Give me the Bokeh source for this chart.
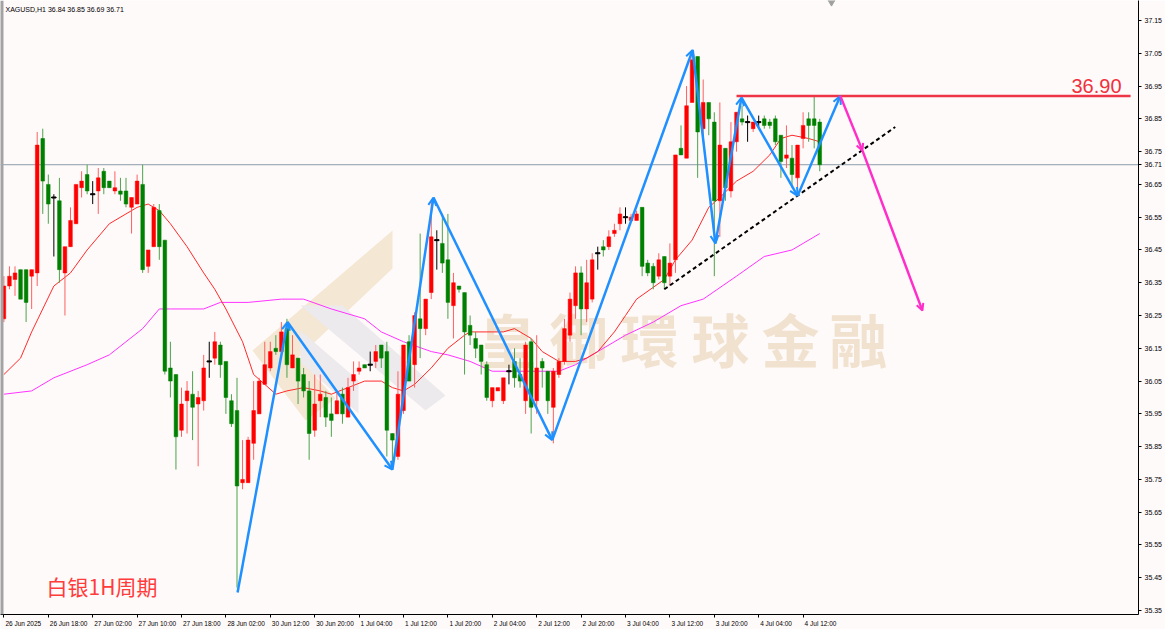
import numpy as np
from bokeh.plotting import figure
from bokeh.models import (ColumnDataSource, Range1d, FixedTicker, PrintfTickFormatter,
                          CustomJSTickFormatter, Span, Label, Arrow, OpenHead)
from bokeh.core.properties import value
from bokeh.embed import file_html
from bokeh.resources import INLINE

# ---------------- data ----------------
symbol_title = "XAGUSD,H1  36.84 36.85 36.69 36.71"
chart_label = "白银1H周期"
level_label = "36.90"
last_price = 36.71
watermark_chars = ["皇", "御", "環", "球", "金", "融"]

opens = [36.24, 36.34, 36.36, 36.39, 36.39, 36.37, 36.38, 36.79, 36.65, 36.61,
         36.60, 36.38, 36.46, 36.53, 36.64, 36.68, 36.62, 36.63, 36.69, 36.66,
         36.63, 36.63, 36.63, 36.58, 36.59, 36.65, 36.40, 36.46, 36.57, 36.48,
         36.09, 36.07, 35.90, 35.99, 36.01, 35.98, 35.99, 36.11, 36.12, 36.16,
         36.11, 35.99, 35.96, 35.74, 35.74, 35.86, 35.95, 36.04, 36.09, 36.15,
         36.14, 36.21, 36.09, 36.12, 36.07, 36.02, 35.90, 35.99, 36.00, 35.95,
         35.95, 36.01, 35.94, 36.05, 36.08, 36.10, 36.10, 36.11, 36.16, 36.14,
         35.89, 35.82, 35.96, 36.17, 36.10, 36.24, 36.21, 36.32, 36.48, 36.47,
         36.42, 36.28, 36.34, 36.32, 36.22, 36.18, 36.16, 36.10, 35.99, 36.02,
         35.99, 36.08, 36.11, 36.07, 35.99, 36.17, 35.99, 36.11, 36.08, 35.97,
         36.07, 36.11, 36.19, 36.28, 36.38, 36.27, 36.30, 36.44, 36.46, 36.46,
         36.50, 36.53, 36.55, 36.54, 36.54, 36.58, 36.41, 36.40, 36.37, 36.43,
         36.37, 36.42, 36.76, 36.73, 36.90, 37.04, 36.82, 36.90, 36.84, 36.60,
         36.76, 36.63, 36.78, 36.85, 36.84, 36.82, 36.84, 36.85, 36.84, 36.85,
         36.80, 36.73, 36.73, 36.67, 36.79, 36.85, 36.85, 36.84]
highs = [36.37, 36.40, 36.40, 36.39, 36.39, 36.39, 36.81, 36.82, 36.68, 36.62,
         36.67, 36.46, 36.58, 36.65, 36.69, 36.71, 36.66, 36.70, 36.70, 36.66,
         36.69, 36.67, 36.67, 36.61, 36.68, 36.71, 36.45, 36.59, 36.59, 36.48,
         36.17, 36.07, 36.03, 36.05, 36.08, 36.02, 36.13, 36.17, 36.20, 36.17,
         36.11, 36.01, 36.06, 35.87, 35.88, 36.05, 36.06, 36.17, 36.17, 36.19,
         36.23, 36.24, 36.19, 36.12, 36.09, 36.05, 36.07, 36.07, 36.02, 36.00,
         36.02, 36.03, 36.06, 36.11, 36.11, 36.10, 36.14, 36.16, 36.16, 36.17,
         35.89, 36.08, 36.16, 36.19, 36.26, 36.50, 36.30, 36.60, 36.51, 36.56,
         36.56, 36.38, 36.34, 36.32, 36.25, 36.20, 36.16, 36.11, 36.03, 36.03,
         36.06, 36.10, 36.15, 36.12, 36.17, 36.18, 36.19, 36.12, 36.08, 36.09,
         36.12, 36.24, 36.32, 36.40, 36.40, 36.42, 36.44, 36.46, 36.48, 36.51,
         36.53, 36.58, 36.58, 36.56, 36.57, 36.58, 36.42, 36.41, 36.44, 36.43,
         36.47, 36.74, 36.83, 36.95, 37.05, 37.04, 36.97, 36.90, 36.87, 36.90,
         36.76, 36.84, 36.87, 36.89, 36.86, 36.84, 36.86, 36.86, 36.85, 36.86,
         36.80, 36.83, 36.77, 36.77, 36.87, 36.87, 36.92, 36.85]
lows = [36.23, 36.33, 36.31, 36.30, 36.23, 36.27, 36.34, 36.56, 36.53, 36.43,
        36.35, 36.25, 36.46, 36.53, 36.61, 36.62, 36.59, 36.56, 36.62, 36.64,
        36.62, 36.60, 36.58, 36.50, 36.59, 36.38, 36.38, 36.46, 36.42, 36.07,
        36.00, 35.78, 35.88, 35.89, 35.87, 35.79, 35.96, 36.06, 36.10, 36.06,
        35.95, 35.91, 35.42, 35.72, 35.74, 35.81, 35.95, 36.04, 36.08, 36.13,
        36.13, 36.06, 36.09, 35.98, 36.00, 35.81, 35.88, 35.94, 35.91, 35.88,
        35.95, 35.92, 35.94, 36.02, 36.07, 36.09, 36.08, 36.09, 36.09, 35.82,
        35.79, 35.81, 35.95, 36.05, 36.03, 36.12, 36.19, 36.30, 36.39, 36.38,
        36.24, 36.18, 36.32, 36.07, 36.16, 36.12, 36.07, 35.99, 35.97, 36.02,
        35.98, 36.04, 36.03, 36.03, 35.95, 35.89, 35.95, 36.03, 35.95, 35.86,
        36.06, 36.10, 36.17, 36.24, 36.19, 36.23, 36.29, 36.39, 36.43, 36.45,
        36.49, 36.51, 36.53, 36.54, 36.54, 36.37, 36.37, 36.33, 36.36, 36.33,
        36.34, 36.38, 36.74, 36.73, 36.90, 36.67, 36.78, 36.80, 36.37, 36.49,
        36.60, 36.61, 36.75, 36.83, 36.78, 36.81, 36.82, 36.82, 36.82, 36.77,
        36.67, 36.70, 36.64, 36.62, 36.76, 36.78, 36.76, 36.69]
closes = [36.34, 36.37, 36.38, 36.30, 36.29, 36.39, 36.77, 36.66, 36.59, 36.61,
          36.39, 36.46, 36.54, 36.65, 36.66, 36.63, 36.62, 36.67, 36.64, 36.64,
          36.64, 36.62, 36.59, 36.61, 36.66, 36.39, 36.45, 36.58, 36.46, 36.08,
          36.05, 35.88, 35.98, 36.02, 35.97, 36.00, 36.09, 36.11, 36.17, 36.10,
          36.00, 35.92, 35.73, 35.75, 35.87, 35.96, 36.05, 36.10, 36.14, 36.14,
          36.20, 36.10, 36.13, 36.05, 36.02, 35.89, 35.98, 36.01, 35.94, 35.93,
          35.99, 35.95, 36.03, 36.07, 36.09, 36.09, 36.10, 36.14, 36.12, 35.90,
          35.87, 36.01, 36.16, 36.05, 36.25, 36.21, 36.30, 36.49, 36.48, 36.41,
          36.29, 36.35, 36.33, 36.20, 36.19, 36.15, 36.11, 36.00, 36.03, 36.03,
          36.06, 36.08, 36.06, 36.05, 36.16, 35.97, 36.09, 36.09, 35.99, 36.08,
          36.11, 36.21, 36.30, 36.38, 36.27, 36.35, 36.42, 36.44, 36.45, 36.49,
          36.51, 36.56, 36.55, 36.55, 36.56, 36.40, 36.38, 36.35, 36.42, 36.35,
          36.41, 36.74, 36.74, 36.89, 37.03, 36.81, 36.90, 36.85, 36.60, 36.77,
          36.64, 36.78, 36.87, 36.84, 36.84, 36.84, 36.84, 36.83, 36.83, 36.78,
          36.72, 36.74, 36.68, 36.77, 36.83, 36.83, 36.83, 36.71]

time_tick_idx = [0, 8, 16, 24, 32, 40, 48, 56, 64, 72, 80, 88, 96, 104, 112, 120, 128, 136, 144]
time_tick_labels = ["26 Jun 2025", "26 Jun 18:00", "27 Jun 02:00", "27 Jun 10:00", "27 Jun 18:00",
                    "28 Jun 02:00", "30 Jun 12:00", "30 Jun 20:00", "1 Jul 04:00", "1 Jul 12:00",
                    "1 Jul 20:00", "2 Jul 04:00", "2 Jul 12:00", "2 Jul 20:00", "3 Jul 04:00",
                    "3 Jul 12:00", "3 Jul 20:00", "4 Jul 04:00", "4 Jul 12:00"]
price_ticks = [35.35, 35.45, 35.55, 35.65, 35.75, 35.85, 35.95, 36.05, 36.15, 36.25,
               36.35, 36.45, 36.55, 36.65, 36.75, 36.85, 36.95, 37.05, 37.15]

ma_fast_idx = [0, 3, 5, 7, 9, 12, 15, 19, 24, 26, 28, 30, 33, 36, 38, 40, 43, 45, 49, 51,
               54, 57, 59, 62, 65, 68, 70, 72, 74, 77, 80, 83, 84, 87, 90, 92, 95, 97, 100,
               103, 105, 107, 110, 112, 114, 119, 121, 124, 127, 129, 132, 135, 138, 140,
               142, 145, 147]
ma_fast_val = [36.07, 36.12, 36.20, 36.27, 36.34, 36.38, 36.45, 36.53, 36.58, 36.59, 36.57,
               36.53, 36.46, 36.38, 36.33, 36.27, 36.17, 36.07, 36.01, 36.02,
               36.03, 36.02, 36.01, 36.03, 36.05, 36.05, 36.03, 36.02, 36.04, 36.09, 36.15,
               36.19, 36.20, 36.20, 36.20, 36.21, 36.18, 36.14, 36.11,
               36.11, 36.12, 36.14, 36.20, 36.25, 36.30, 36.36, 36.42, 36.48, 36.58, 36.61,
               36.66, 36.69, 36.74, 36.79, 36.80, 36.79, 36.78]
ma_slow_idx = [0, 5, 9, 15, 19, 22, 25, 28, 30, 36, 39, 44, 50, 54, 59, 65, 68, 72, 77, 80,
               84, 88, 92, 95, 100, 103, 107, 112, 117, 122, 126, 132, 137, 142, 147]
ma_slow_val = [36.01, 36.02, 36.06, 36.10, 36.13, 36.17, 36.21, 36.27, 36.27, 36.27, 36.29,
               36.29, 36.30, 36.30, 36.27, 36.24, 36.20, 36.17, 36.14, 36.13,
               36.11, 36.08, 36.08, 36.08, 36.08, 36.10, 36.14, 36.19, 36.23, 36.28, 36.30,
               36.37, 36.43, 36.45, 36.50]

zigzag_idx = [42.1, 51.1, 70.0, 77.4, 98.8, 124.1, 128.2, 132.9, 143.0, 150.7]
zigzag_price = [35.405, 36.23, 35.78, 36.61, 35.87, 37.06, 36.47, 36.915, 36.615, 36.92]
level_price = 36.92
level_span = [132.0, 203.0]
trend_idx = [119.0, 160.6]
trend_price = [36.33, 36.825]
proj_idx = [150.7, 154.7, 165.5]
proj_price = [36.92, 36.753, 36.265]

# ---------------- geometry ----------------
BAR_PX = 5.55
PRICE_PX = 327.8
FRAME_W = 1138
FRAME_H = 614
x_start = -3.4 / BAR_PX
x_end = x_start + FRAME_W / BAR_PX
y_top = 37.15 + 20 / PRICE_PX
y_bot = y_top - FRAME_H / PRICE_PX


def ix(px):
    return (px - 3.4) / BAR_PX


def py(pix):
    return 37.15 - (pix - 20) / PRICE_PX


FONT = "Liberation Sans"
TIME_FS = 6.5
CHAR_W = {" ": 0.278, ":": 0.278, "J": 0.5, "l": 0.222, "u": 0.556, "n": 0.556}


def text_w(s, fs):
    return sum(CHAR_W.get(ch, 0.556) for ch in s) * fs


label_centers = [t + (text_w(s, TIME_FS) / 2 + 1.5) / BAR_PX
                 for t, s in zip(time_tick_idx, time_tick_labels)]

BG = "#FFFAFA"
UP = "#FF0000"
UP_WICK = "#FF6060"
DN = "#008000"
DN_WICK = "#4CA34C"
BLUE = "#1E90FF"
PINK = "#FF2EC8"

p = figure(frame_width=FRAME_W, frame_height=FRAME_H,
           x_range=Range1d(x_start, x_end), y_range=Range1d(y_bot, y_top),
           output_backend="svg", toolbar_location=None, y_axis_location="right",
           min_border=0, background_fill_color=BG, border_fill_color=BG)
p.outline_line_color = None
p.grid.visible = False

# right price scale
p.yaxis.ticker = FixedTicker(ticks=price_ticks + [last_price])
p.yaxis.formatter = PrintfTickFormatter(format="%.2f")
p.yaxis.axis_line_color = "black"
p.yaxis.major_tick_out = 3
p.yaxis.major_tick_in = 0
p.yaxis.minor_tick_line_color = None
p.yaxis.major_label_standoff = 3
p.yaxis.major_label_text_font = FONT
p.yaxis.major_label_text_font_size = "7px"
p.yaxis.major_label_text_color = "black"

# time scale: tick marks at bar positions (minor), labels left-aligned (major at label centers)
p.xaxis.ticker = FixedTicker(ticks=label_centers, minor_ticks=time_tick_idx)
p.xaxis.formatter = CustomJSTickFormatter(
    args=dict(centers=label_centers, labels=time_tick_labels),
    code="""
    for (let i = 0; i < centers.length; i++) {
        if (Math.abs(centers[i] - tick) < 1e-6) { return labels[i]; }
    }
    return "";
    """)
p.xaxis.axis_line_color = "black"
p.xaxis.major_tick_out = 0
p.xaxis.major_tick_in = 0
p.xaxis.minor_tick_out = 3
p.xaxis.minor_tick_in = 0
p.xaxis.minor_tick_line_color = "black"
p.xaxis.major_label_standoff = 2
p.xaxis.major_label_text_font = FONT
p.xaxis.major_label_text_font_size = f"{TIME_FS}px"
p.xaxis.major_label_text_color = "black"

# ---------------- watermark / logo (decoration) ----------------
tan_poly_x = [[ix(392), ix(392), ix(298), ix(335), ix(305), ix(252)]]
tan_poly_y = [[py(230), py(268), py(357), py(398), py(420), py(350)]]
p.patches(tan_poly_x, tan_poly_y, fill_color="#F4E7D3", line_color=None, level="underlay")
gray_poly_x = [[ix(300), ix(342), ix(445), ix(425)], [ix(300), ix(300), ix(358), ix(358)]]
gray_poly_y = [[py(305), py(305), py(395), py(410)], [py(330), py(362), py(413), py(380)]]
p.patches(gray_poly_x, gray_poly_y, fill_color="#EDEAED", line_color=None, level="underlay")

wm_x = [ix(507), ix(578), ix(649), ix(720), ix(790), ix(858)]
wm_y = [py(337)] * 6
p.text(x=wm_x, y=wm_y, text=watermark_chars, text_font=value("Noto Sans CJK TC"),
       text_font_size="58px", text_font_style="bold", text_color="#F1E2CF",
       text_align="center", text_baseline="middle", level="underlay")

p.add_layout(Span(location=last_price, dimension="width", line_color="#8D9BAA",
                  line_width=1, level="underlay"))
p.add_layout(Span(location=x_start, dimension="height", line_color="#A3A3A3",
                  line_width=6))

# chart-shift marker at the top
p.scatter(x=[ix(831)], y=[py(1)], marker="inverted_triangle", size=8,
          fill_color="#A0A0A0", line_color="#A0A0A0")

# ---------------- moving averages ----------------
p.line(ma_slow_idx, ma_slow_val, line_color="#FF33FF", line_width=1)
p.line(ma_fast_idx, ma_fast_val, line_color="#FF2A2A", line_width=1)

# ---------------- candles ----------------
o = np.array(opens); h = np.array(highs); l = np.array(lows); c = np.array(closes)
idx = np.arange(len(o))
is_up = c > o
is_dn = c < o
is_doji = c == o
body_col = np.where(is_up, UP, np.where(is_dn, DN, "black"))
wick_col = np.where(is_up, UP_WICK, np.where(is_dn, DN_WICK, "black"))

src = ColumnDataSource(dict(x=idx, l=l, h=h, wc=wick_col))
p.segment(x0="x", y0="l", x1="x", y1="h", line_color="wc", line_width=1, source=src)
nd = ~is_doji
src_body = ColumnDataSource(dict(x=idx[nd], top=np.maximum(o, c)[nd], bot=np.minimum(o, c)[nd],
                                 bc=body_col[nd]))
p.vbar(x="x", width=0.66, top="top", bottom="bot", fill_color="bc", line_color="bc",
       line_width=0.5, source=src_body)
src_doji = ColumnDataSource(dict(x=idx[is_doji], y=c[is_doji]))
p.rect(x="x", y="y", width=0.8, height=1, height_units="screen", fill_color="black",
       line_color="black", source=src_doji)

# ---------------- drawn objects ----------------
p.line(trend_idx, trend_price, line_color="black", line_width=2, line_dash="4 3")
p.line(level_span, [level_price, level_price], line_color="#EE3548", line_width=2.5)

zz_src = ColumnDataSource(dict(x0=zigzag_idx[:-1], y0=zigzag_price[:-1],
                               x1=zigzag_idx[1:], y1=zigzag_price[1:]))
p.add_layout(Arrow(source=zz_src, x_start="x0", y_start="y0", x_end="x1", y_end="y1",
                   line_color=BLUE, line_width=2.5,
                   end=OpenHead(size=8, line_color=BLUE, line_width=2)))
pj_src = ColumnDataSource(dict(x0=proj_idx[:-1], y0=proj_price[:-1],
                               x1=proj_idx[1:], y1=proj_price[1:]))
p.add_layout(Arrow(source=pj_src, x_start="x0", y_start="y0", x_end="x1", y_end="y1",
                   line_color=PINK, line_width=2.5,
                   end=OpenHead(size=7, line_color=PINK, line_width=2)))

# ---------------- texts ----------------
p.add_layout(Label(x=ix(5), y=py(5), text=symbol_title,
                   text_font=FONT, text_font_size="7px", text_color="black",
                   text_baseline="top"))
p.add_layout(Label(x=ix(1071), y=py(85), text=level_label, text_font=FONT,
                   text_font_size="20px", text_color="#F0303C", text_baseline="middle"))
p.add_layout(Label(x=ix(46), y=py(585), text=chart_label, text_font="Noto Sans CJK SC",
                   text_font_size="21px", text_color="#FF3B3B", text_baseline="middle"))

open("out.html", "w").write(file_html(p, INLINE))
